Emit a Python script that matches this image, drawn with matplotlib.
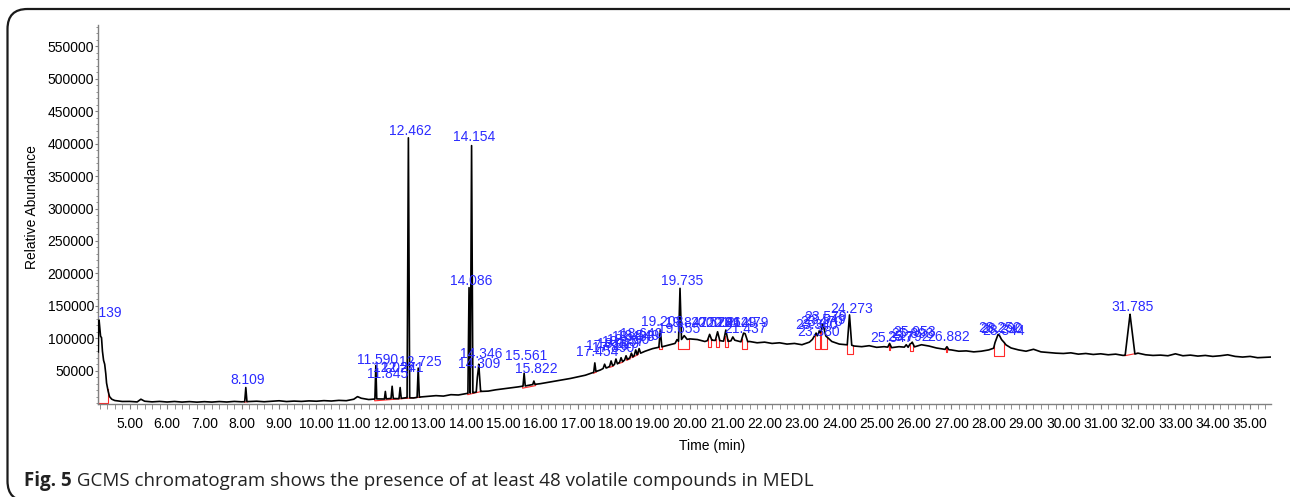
import numpy as np
import matplotlib
matplotlib.use("Agg")
import matplotlib.pyplot as plt
from matplotlib.ticker import MultipleLocator, FixedLocator, FormatStrFormatter
from matplotlib.patches import FancyBboxPatch

# baseline trace (time in min, abundance)
trace_time = [4.159, 4.165, 4.18, 4.20, 4.22, 4.245, 4.27, 4.30, 4.33, 4.36, 4.38, 4.42, 4.46, 4.52, 4.6,
              4.8, 5.0, 5.2, 5.3, 5.4, 5.6, 5.8, 6.0, 6.2, 6.4, 6.6, 6.8, 7.0, 7.2, 7.4, 7.6, 7.8, 8.0,
              8.2, 8.4, 8.6, 8.8, 9.0, 9.2, 9.4, 9.6, 9.8, 10.0, 10.2, 10.4, 10.6, 10.8, 11.0, 11.1,
              11.2, 11.4, 11.6, 11.8, 12.0, 12.2, 12.4, 12.6, 12.8, 13.0, 13.2, 13.4, 13.6, 13.8,
              14.0, 14.2, 14.4, 14.6, 14.8, 15.0, 15.2, 15.4, 15.6, 15.8, 16.0, 16.2, 16.4, 16.6,
              16.8, 17.0, 17.2, 17.4, 17.6, 17.8, 18.0, 18.2, 18.4, 18.6, 18.8, 19.0, 19.2, 19.4,
              19.6, 19.8, 20.0, 20.2, 20.4, 20.6, 20.8, 21.0, 21.2, 21.4, 21.6, 21.8, 22.0, 22.2,
              22.4, 22.6, 22.8, 23.0, 23.2, 23.4, 23.6, 23.8, 24.0, 24.2, 24.4, 24.6, 24.8, 25.0,
              25.2, 25.4, 25.6, 25.8, 26.0, 26.2, 26.4, 26.6, 26.8, 27.0, 27.2, 27.4, 27.6, 27.8,
              28.0, 28.2, 28.4, 28.6, 28.8, 29.0, 29.2, 29.4, 29.6, 29.8, 30.0, 30.2, 30.4, 30.6,
              30.8, 31.0, 31.2, 31.4, 31.6, 31.8, 32.0, 32.2, 32.4, 32.6, 32.8, 33.0, 33.2, 33.4,
              33.6, 33.8, 34.0, 34.2, 34.4, 34.6, 34.8, 35.0, 35.2, 35.4, 35.55]
trace_abund = [79000, 118000, 128000, 116000, 103000, 101000, 80000, 66000, 60000, 45000, 31000, 19000, 10000, 6000, 4000,
               2500, 2600, 1800, 6000, 2900, 1900, 2600, 1700, 2500, 1600, 2300, 1500, 2200, 1600, 2400, 1700, 2600, 2000,
               2400, 2900, 2100, 2800, 3600, 2400, 3100, 2600, 3400, 2900, 3800, 3200, 4200, 3700, 6000, 10000,
               7500, 5500, 6500, 6200, 7200, 6800, 8300, 7900, 9500, 10500, 11500, 10800, 13000, 12500,
               14500, 16000, 18000, 18500, 20500, 22000, 23500, 25000, 26500, 28500, 30000, 32000, 34000, 36000,
               38000, 40500, 43000, 47000, 51000, 55000, 59000, 64000, 69000, 75000, 80000, 84000, 86000, 89000,
               92000, 97000, 99000, 98000, 95000, 97000, 96000, 95000, 97000, 94000, 95000, 93000, 94000, 92000,
               93000, 91000, 92000, 90000, 94000, 100000, 104000, 95000, 91000, 90000, 88000, 87000, 88500, 86000,
               87000, 85500, 87000, 86000, 86500, 90000, 88000, 85000, 83000, 82000, 80000, 80500, 79000, 80000,
               82000, 86000, 92000, 85000, 82000, 80000, 83000, 79000, 78000, 77000, 76500, 77500, 75500, 76500,
               75000, 76000, 74500, 75500, 73500, 74000, 77000, 74500, 73500, 74000, 73000, 76000, 73000, 74000,
               72500, 73500, 72000, 73000, 74500, 72000, 71000, 72000, 70000, 70500, 71000]

# labelled peaks: retention time, apex abundance, half width (min), label height
peak_time = [4.139, 8.109, 11.590, 11.845, 12.027, 12.241, 12.462, 12.725, 14.086, 14.154, 14.309, 14.346,
             15.561, 15.822, 17.454, 17.716, 17.890, 18.019, 18.157, 18.290, 18.433, 18.549, 18.640,
             19.208, 19.655, 19.735, 19.847, 20.528, 20.741, 20.962, 21.149, 21.437, 21.479,
             23.340, 23.380, 23.470, 23.549, 23.579, 24.273, 25.347, 25.792, 25.893, 25.953, 26.882,
             28.252, 28.290, 28.344, 31.785]
peak_abund = [128000, 24000, 58000, 18000, 26000, 24000, 409000, 54000, 178000, 397000, 40000, 60000,
              46000, 34000, 62000, 60000, 65000, 68000, 70000, 73000, 77000, 82000, 84000,
              113000, 98000, 177000, 104000, 106000, 110000, 112600, 102000, 108000, 107000,
              104000, 108000, 112000, 122000, 118000, 136000, 92000, 90000, 91000, 94000, 87000,
              106000, 104000, 98000, 137000]
peak_halfwidth = [0.0, 0.03, 0.025, 0.025, 0.03, 0.03, 0.035, 0.03, 0.03, 0.035, 0.03, 0.05,
                  0.03, 0.03, 0.03, 0.04, 0.04, 0.04, 0.04, 0.04, 0.04, 0.04, 0.04,
                  0.04, 0.04, 0.04, 0.08, 0.06, 0.06, 0.06, 0.05, 0.07, 0.07,
                  0.06, 0.06, 0.06, 0.06, 0.06, 0.06, 0.05, 0.05, 0.05, 0.06, 0.05,
                  0.12, 0.12, 0.12, 0.13]
label_time = [4.27] + peak_time[1:]
label_abund = [139300, 35500, 66300, 44700, 54000, 54000, 419700, 63700, 188700, 410400, 60200, 75600,
               72500, 52500, 78700, 88000, 85000, 91000, 94000, 97000, 102000, 103000, 106000,
               125000, 114000, 188000, 123000, 123000, 123000, 123000, 123000, 114000, 123000,
               120000, 109500, 125000, 128000, 132700, 145000, 100000, 101800, 106000, 109500, 101800,
               115700, 114000, 111000, 148000]

# integration marks (start, end, baseline at start, baseline at end)
integ_start = [4.159, 8.07, 11.56, 14.05, 15.52, 17.42, 17.85, 18.10, 18.30, 18.45, 19.17, 19.68,
               20.48, 20.69, 20.93, 21.39, 23.35, 23.51, 24.20, 25.33, 25.88, 26.86, 28.15, 31.64]
integ_end = [4.41, 8.15, 12.78, 14.42, 15.87, 17.50, 17.95, 18.20, 18.40, 18.62, 19.25, 19.98,
             20.57, 20.79, 21.01, 21.53, 23.47, 23.66, 24.36, 25.36, 25.97, 26.89, 28.40, 31.99]
integ_base0 = [0, 1500, 3500, 13000, 23000, 46000, 55000, 61000, 66000, 70000, 84000, 84000,
               87000, 87000, 87000, 84000, 84000, 84000, 76000, 82000, 80000, 79000, 73000, 73000]
integ_base1 = [0, 2000, 9000, 18000, 27000, 48000, 57000, 63000, 68000, 75000, 84000, 84000,
               87000, 87000, 87000, 84000, 84000, 84000, 76000, 82000, 80000, 79000, 73000, 77000]

# build the chromatogram line: baseline plus the labelled peaks as spikes
t = np.array(trace_time, dtype=float)
extra = []
for pt, w in zip(peak_time, peak_halfwidth):
    if w > 0:
        extra += [pt - w, pt, pt + w]
t_all = np.unique(np.concatenate([t, extra]))
y_all = np.interp(t_all, t, trace_abund)
for pt, h, w in zip(peak_time, peak_abund, peak_halfwidth):
    if w <= 0:
        continue
    b = np.interp(pt, t, trace_abund)
    m = np.abs(t_all - pt) <= w
    tri = b + (h - b) * (1 - np.abs(t_all[m] - pt) / w)
    y_all[m] = np.maximum(y_all[m], tri)

plt.rcParams['font.family'] = ['Liberation Sans', 'DejaVu Sans']

fig = plt.figure(figsize=(12.9, 4.97), dpi=100)
ax = fig.add_axes([0.0762, 0.1871, 0.9088, 0.7626])

ax.plot(t_all, y_all, color='black', lw=1.2, zorder=3)

for s, e, b0, b1 in zip(integ_start, integ_end, integ_base0, integ_base1):
    ys = np.interp(s, t_all, y_all)
    ye = np.interp(e, t_all, y_all)
    ax.plot([s, s, e, e], [ys, b0, b1, ye], color='#ff2a2a', lw=0.8, zorder=2)

for lt, pt, la in zip(label_time, peak_time, label_abund):
    ax.annotate('%.3f' % pt, (lt, la), xytext=(1.5, 0), textcoords='offset points',
                color='#2b2bff', fontsize=10, ha='center', va='center',
                annotation_clip=False, clip_on=True, zorder=4)

ax.set_xlim(4.159, 35.55)
ax.set_ylim(-1400, 583000)

for side in ['top', 'right']:
    ax.spines[side].set_visible(False)
for side in ['left', 'bottom']:
    ax.spines[side].set_color('#808080')
    ax.spines[side].set_linewidth(1.0)

ax.xaxis.set_major_locator(MultipleLocator(1))
ax.xaxis.set_minor_locator(MultipleLocator(0.2))
ax.xaxis.set_major_formatter(FormatStrFormatter('%.2f'))
ax.yaxis.set_major_locator(FixedLocator(list(range(50000, 550001, 50000))))
ax.yaxis.set_minor_locator(MultipleLocator(10000))
ax.tick_params(axis='x', which='both', length=3.5, color='#808080', labelsize=10, pad=5.5)
ax.tick_params(axis='y', which='major', length=2.5, color='#808080', labelsize=10, pad=0.5)
ax.tick_params(axis='y', which='minor', length=1.8, color='#808080')

ax.set_xlabel('Time (min)', fontsize=10)
ax.set_ylabel('Relative Abundance', fontsize=10)
ax.xaxis.set_label_coords(0.524, -0.093)
ax.yaxis.set_label_coords(-0.0505, 0.52)

# rounded frame (runs off the right edge) and caption
frame = FancyBboxPatch((0.075, -0.04), 13.2, 4.92,
                       boxstyle='round,pad=0,rounding_size=0.2',
                       transform=fig.dpi_scale_trans, fill=False,
                       edgecolor='#1a1a1a', linewidth=1.6)
fig.add_artist(frame)

cap1 = fig.text(24 / 1290, 1 - 486 / 497, 'Fig. 5', fontsize=13.5, fontweight='bold',
                family=['Open Sans', 'DejaVu Sans'], va='baseline', ha='left', color='#222222')
cap2 = fig.text(0.0, 0.0, ' GCMS chromatogram shows the presence of at least 48 volatile compounds in MEDL',
                fontsize=13.5, family=['Open Sans', 'DejaVu Sans'], va='baseline', ha='left', color='#222222')
fig.canvas.draw()
cap_end = cap1.get_window_extent().x1 / fig.bbox.width
cap2.set_position((cap_end, 1 - 486 / 497))

fig.savefig('out.png', dpi=100)
